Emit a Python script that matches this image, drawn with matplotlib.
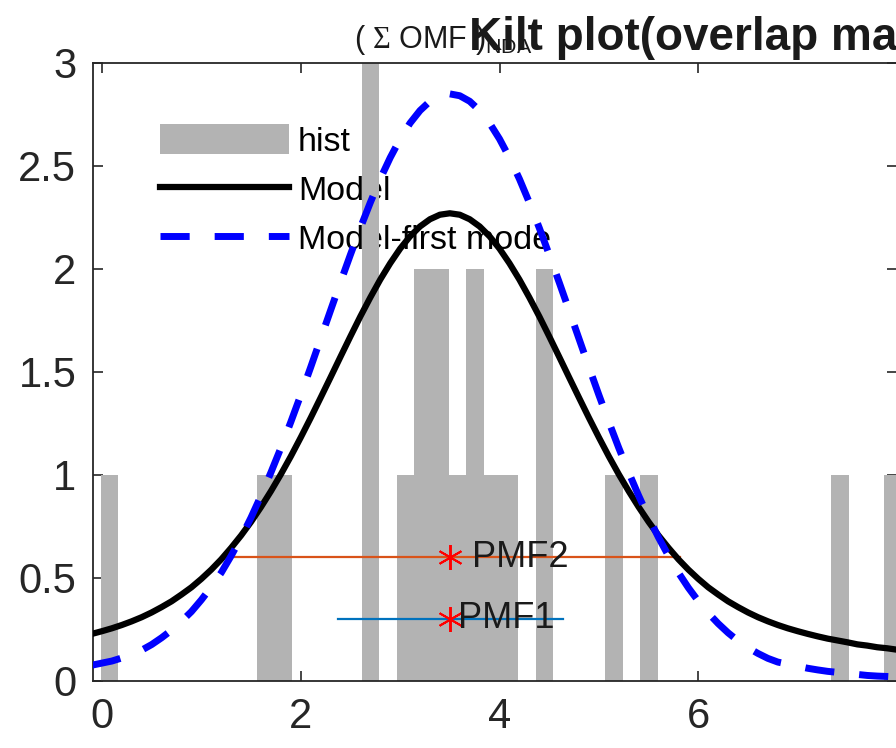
import numpy as np
import matplotlib.pyplot as plt
from matplotlib.ticker import FormatStrFormatter

plt.rcParams['font.family'] = ['Liberation Sans', 'DejaVu Sans']
plt.rcParams['mathtext.fontset'] = 'custom'
plt.rcParams['mathtext.rm'] = 'Liberation Serif'
plt.rcParams['mathtext.sf'] = 'Liberation Sans'

# histogram bins (left edge, count)
bin_width = 0.175
bin_left = [-0.01, 1.565, 1.74, 2.615, 2.965, 3.14, 3.315, 3.49, 3.665,
            3.84, 4.015, 4.365, 5.065, 5.415, 7.34, 7.865]
bin_count = [1, 1, 1, 3, 1, 2, 2, 1, 2, 1, 1, 2, 1, 1, 1, 1]

x_model = np.linspace(-0.1, 8.1, 83)
y_model = [0.227, 0.240, 0.254, 0.270, 0.288, 0.308, 0.331, 0.357, 0.385, 0.418,
           0.453, 0.494, 0.539, 0.589, 0.645, 0.705, 0.771, 0.843, 0.920, 1.002,
           1.089, 1.181, 1.276, 1.374, 1.473, 1.573, 1.672, 1.769, 1.861, 1.948,
           2.027, 2.098, 2.158, 2.206, 2.241, 2.263,
           2.270,
           2.263, 2.241, 2.206, 2.158, 2.098, 2.027, 1.948, 1.861, 1.769, 1.672,
           1.573, 1.473, 1.374, 1.276, 1.181, 1.089, 1.002, 0.920, 0.843, 0.771,
           0.705, 0.645, 0.589, 0.539, 0.494, 0.453, 0.418, 0.385, 0.357, 0.331,
           0.308, 0.288, 0.270, 0.254, 0.240, 0.227, 0.215, 0.204, 0.195, 0.186,
           0.176, 0.170, 0.162, 0.157, 0.150, 0.145]
y_first = [0.075, 0.085, 0.095, 0.110, 0.125, 0.148, 0.175, 0.208, 0.245, 0.288,
           0.335, 0.392, 0.455, 0.524, 0.606, 0.695, 0.792, 0.898, 1.011, 1.130,
           1.256, 1.387, 1.522, 1.660, 1.798, 1.935, 2.069, 2.199, 2.322, 2.437,
           2.540, 2.631, 2.708, 2.769, 2.814, 2.841,
           2.850,
           2.841, 2.814, 2.769, 2.708, 2.631, 2.540, 2.437, 2.322, 2.199, 2.069,
           1.935, 1.798, 1.660, 1.522, 1.387, 1.256, 1.130, 1.011, 0.898, 0.792,
           0.695, 0.606, 0.524, 0.451, 0.386, 0.328, 0.277, 0.232, 0.193, 0.160,
           0.132, 0.108, 0.090, 0.080, 0.070, 0.060, 0.052, 0.045, 0.040, 0.035,
           0.030, 0.025, 0.022, 0.020, 0.017, 0.015]

# PMF markers
pmf_names = ['PMF1', 'PMF2']
pmf_center = [3.5, 3.5]
pmf_lo = [2.37, 1.21]
pmf_hi = [4.64, 5.82]
pmf_y = [0.3, 0.6]
pmf_colors = ['#0072BD', '#D95319']
pmf_text_x = [3.58, 3.72]

fig = plt.figure(figsize=(8.96, 7.48), dpi=100)
ax = fig.add_axes([93 / 896, 1 - 680.6 / 748, 804.1 / 896, 617.6 / 748])

bars = ax.bar(bin_left, bin_count, width=bin_width, align='edge', color='#b3b3b3',
              edgecolor='none', label='hist', zorder=2)
for i in range(len(pmf_names)):
    ax.plot([pmf_lo[i], pmf_hi[i]], [pmf_y[i], pmf_y[i]], color=pmf_colors[i],
            lw=1.6, zorder=3)
l_model, = ax.plot(x_model, y_model, color='black', lw=4.5, label='Model',
                   zorder=4, solid_joinstyle='round')
l_first, = ax.plot(x_model, y_first, color='#0000ff', lw=5, ls=(0, (4.2, 3.6)),
                   label='Model-first mode', zorder=5)
ax.plot(pmf_center, pmf_y, ls='none', marker=(6, 2, 0), color='red', ms=18,
        mew=1.4, zorder=6)
for i in range(len(pmf_names)):
    ax.text(pmf_text_x[i], pmf_y[i], pmf_names[i], fontsize=26, va='center',
            ha='left', color='#1a1a1a', zorder=7)

ax.set_xlim(-0.09, 8.0)
ax.set_ylim(0, 3)
ax.set_xticks([0, 2, 4, 6])
ax.set_yticks([0, 0.5, 1, 1.5, 2, 2.5, 3])
ax.yaxis.set_major_formatter(FormatStrFormatter('%g'))
ax.tick_params(direction='in', length=7, width=1.2, labelsize=30,
               colors='#262626', top=True, right=True, pad=12)
for s in ax.spines.values():
    s.set_color('#262626')
    s.set_linewidth(1.3)

leg = ax.legend([bars, l_model, l_first], ['hist', 'Model', 'Model-first mode'],
                loc='upper left', bbox_to_anchor=(160 / 896, 1 - 124 / 748),
                bbox_transform=fig.transFigure, frameon=False, fontsize=24.5,
                handlelength=3.8, handleheight=1.0, handletextpad=0.25,
                labelspacing=0.45, borderpad=0, borderaxespad=0)
leg.set_zorder(1)

fig.text(354 / 896, 1 - 48 / 748, r'( $\Sigma$ OMF )$_{\mathsf{NDA}}$',
         fontsize=22, va='baseline', ha='left', color='#1a1a1a')
fig.text(469 / 896, 1 - 50 / 748, 'Kilt plot(overlap ma', fontsize=33,
         fontweight='bold', va='baseline', ha='left', color='#1a1a1a')

fig.savefig('out.png', dpi=100)
